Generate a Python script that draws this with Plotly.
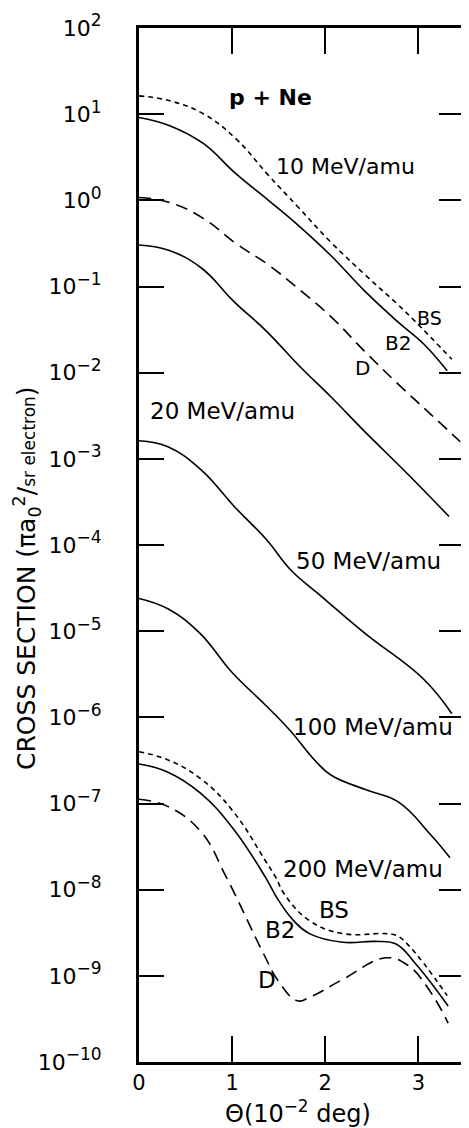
import plotly.graph_objects as go

# ---------------- data ----------------
# 10 MeV/amu
theta_10_bs = [0, 0.33, 0.69, 1.04, 1.39, 1.71, 2.06, 2.43, 2.78, 2.97, 3.36]
cs_10_bs = [16.3, 14.3, 10.1, 5.19, 1.95, 0.832, 0.327, 0.136, 0.0617, 0.0389, 0.0143]
theta_10_b2 = [0, 0.33, 0.69, 1.04, 1.39, 1.71, 2.06, 2.43, 2.78, 3.06, 3.31]
cs_10_b2 = [9.16, 7.35, 4.57, 2.04, 1.0, 0.513, 0.229, 0.0871, 0.0389, 0.0214, 0.0105]
theta_10_d = [0, 0.33, 0.69, 1.04, 1.39, 1.75, 2.08, 2.42, 2.78, 3.13, 3.45]
cs_10_d = [1.08, 0.944, 0.617, 0.316, 0.178, 0.0871, 0.0427, 0.0178, 0.00741, 0.00331, 0.00158]

# 20 MeV/amu
theta_20 = [0, 0.31, 0.67, 1.02, 1.37, 1.73, 2.06, 2.43, 2.88, 3.33]
cs_20 = [0.303, 0.265, 0.164, 0.0668, 0.0302, 0.0117, 0.00525, 0.00204, 6.76e-4, 2.14e-4]

# 50 MeV/amu
theta_50 = [0, 0.31, 0.67, 1.02, 1.37, 1.63, 1.93, 2.42, 3.06, 3.36]
cs_50 = [1.62e-3, 1.38e-3, 7.41e-4, 2.82e-4, 1.15e-4, 5.13e-5, 2.69e-5, 9.55e-6, 2.75e-6, 1.10e-6]

# 100 MeV/amu
theta_100 = [0, 0.31, 0.65, 1.0, 1.36, 1.62, 1.89, 2.06, 2.43, 2.78, 3.13, 3.34]
cs_100 = [2.40e-5, 1.82e-5, 9.55e-6, 3.31e-6, 1.38e-6, 7.08e-7, 3.16e-7, 2.14e-7,
          1.45e-7, 1.05e-7, 4.37e-8, 2.34e-8]

# 200 MeV/amu
theta_200_bs = [0, 0.3, 0.66, 1.01, 1.36, 1.47, 1.56, 1.83, 2.19, 2.65, 2.76, 2.89, 3.31]
cs_200_bs = [3.98e-7, 3.24e-7, 1.95e-7, 8.13e-8, 2.14e-8, 1.38e-8, 8.91e-9, 4.37e-9,
             3.09e-9, 3.09e-9, 2.95e-9, 2.29e-9, 5.89e-10]
theta_200_b2 = [0, 0.3, 0.66, 1.01, 1.36, 1.49, 1.66, 1.83, 2.19, 2.54, 2.76, 2.97, 3.32]
cs_200_b2 = [2.88e-7, 2.34e-7, 1.32e-7, 5.13e-8, 1.38e-8, 7.76e-9, 4.37e-9, 3.09e-9,
             2.45e-9, 2.51e-9, 2.34e-9, 1.38e-9, 4.47e-10]
theta_200_d = [0, 0.3, 0.66, 0.94, 1.34, 1.49, 1.70, 1.83, 2.19, 2.65, 2.89, 3.12, 3.32]
cs_200_d = [1.12e-7, 9.33e-8, 4.79e-8, 1.38e-8, 1.78e-9, 8.91e-10, 5.13e-10, 5.62e-10,
            9.12e-10, 1.62e-9, 1.32e-9, 6.76e-10, 2.82e-10]

x_ticks = [0, 1, 2, 3]
x_tick_labels = ["0", "1", "2", "3"]
y_exponents = [-10, -9, -8, -7, -6, -5, -4, -3, -2, -1, 0, 1, 2]
y_exponent_labels = ["−10", "−9", "−8", "−7", "−6", "−5", "−4", "−3", "−2", "−1", "0", "1", "2"]

# ---------------- figure ----------------
FONT = "DejaVu Sans"
BS_DASH = "5px,4px"
D_DASH = "12px,7px"

curves = [
    (theta_10_bs, cs_10_bs, BS_DASH),
    (theta_10_b2, cs_10_b2, "solid"),
    (theta_10_d, cs_10_d, D_DASH),
    (theta_20, cs_20, "solid"),
    (theta_50, cs_50, "solid"),
    (theta_100, cs_100, "solid"),
    (theta_200_bs, cs_200_bs, BS_DASH),
    (theta_200_b2, cs_200_b2, "solid"),
    (theta_200_d, cs_200_d, D_DASH),
]

fig = go.Figure()
for xs, ys, dash in curves:
    fig.add_trace(go.Scatter(
        x=xs, y=ys, mode="lines",
        line=dict(color="black", width=1.6, dash=dash, shape="spline", smoothing=1.2),
        showlegend=False, hoverinfo="skip",
    ))

# curve labels (x in theta units, y as log10 of cross section)
labels = [
    ("<b>p + Ne</b>", 1.41, 1.19, 22),
    ("10 MeV/amu", 2.22, 0.39, 22),
    ("BS", 3.12, -1.36, 19),
    ("B2", 2.78, -1.65, 20),
    ("D", 2.40, -1.94, 20),
    ("20 MeV/amu", 0.90, -2.44, 23),
    ("50 MeV/amu", 2.46, -4.19, 23),
    ("100 MeV/amu", 2.51, -6.11, 23),
    ("200 MeV/amu", 2.40, -7.76, 23),
    ("BS", 2.09, -8.24, 23),
    ("B2", 1.51, -8.47, 23),
    ("D", 1.37, -9.05, 23),
]
for text, lx, ly, size in labels:
    fig.add_annotation(x=lx, y=ly, xref="x", yref="y", text=text, showarrow=False,
                       font=dict(family=FONT, size=size, color="black"),
                       xanchor="center", yanchor="middle")

# axis titles
fig.add_annotation(
    xref="paper", yref="paper", x=-0.345, y=0.468,
    text="CROSS SECTION (πa<sub>0</sub><sup>2</sup>/<span style='font-size:17px'>sr electron</span>)",
    textangle=-90, showarrow=False, xanchor="center", yanchor="middle",
    font=dict(family=FONT, size=25, color="black"),
)
fig.add_annotation(
    xref="paper", yref="paper", x=0.49, y=-0.048,
    text="Θ(10<sup>−2</sup> deg)", showarrow=False, xanchor="center", yanchor="middle",
    font=dict(family=FONT, size=24, color="black"),
)

y_tick_text = ["10<sup><span style='font-size:17px'>%s</span></sup>" % s for s in y_exponent_labels]

fig.update_xaxes(
    range=[0, 3.49], showgrid=False, zeroline=False,
    showline=True, linecolor="black", linewidth=3, mirror="ticks",
    ticks="inside", ticklen=26, tickwidth=1.5, tickcolor="black",
    tickvals=x_ticks, ticktext=x_tick_labels, ticklabelstandoff=0,
    ticklabeloverflow="allow",
    tickfont=dict(family=FONT, size=21, color="black"),
)
fig.update_yaxes(
    type="log", range=[-10, 2], showgrid=False, zeroline=False,
    showline=True, linecolor="black", linewidth=3, mirror="ticks",
    ticks="inside", ticklen=25, tickwidth=1.5, tickcolor="black",
    tickvals=[10.0 ** e for e in y_exponents], ticktext=y_tick_text,
    ticklabelstandoff=30, ticklabeloverflow="allow",
    tickfont=dict(family=FONT, size=22, color="black"),
)
# page body has an 8px margin, so the figure is sized to fit the remaining window
fig.update_layout(
    width=461, height=1120,
    margin=dict(l=131, r=2, t=14, b=66),
    paper_bgcolor="white", plot_bgcolor="white",
    font=dict(family=FONT, color="black"),
)

fig.write_html("out.html")
